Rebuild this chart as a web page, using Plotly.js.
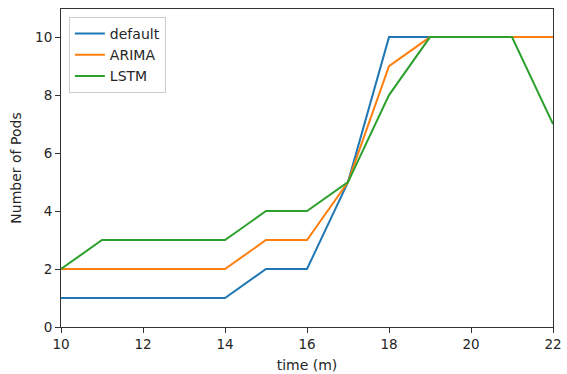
<!DOCTYPE html>
<html>
<head>
<meta charset="utf-8">
<script src="https://cdn.plot.ly/plotly-3.0.1.min.js"></script>
<style>
  html, body { margin: 0; padding: 0; background: #fff; }
  #chart { width: 567px; height: 374px; }
</style>
</head>
<body>
<div id="chart"></div>
<script>
// Time axis (minutes) and pod counts per autoscaling strategy
const timeMinutes = [10, 11, 12, 13, 14, 15, 16, 17, 18, 19, 20, 21, 22];
const podsDefault = [1, 1, 1, 1, 1, 2, 2, 5, 10, 10, 10, 10, 10];
const podsArima   = [2, 2, 2, 2, 2, 3, 3, 5, 9, 10, 10, 10, 10];
const podsLstm    = [2, 3, 3, 3, 3, 4, 4, 5, 8, 10, 10, 10, 7];
const seriesNames = ['default', 'ARIMA', 'LSTM'];
const xTicks = [10, 12, 14, 16, 18, 20, 22];
const yTicks = [0, 2, 4, 6, 8, 10];

const colors = ['#1f77b4', '#ff7f0e', '#2ca02c'];
const series = [podsDefault, podsArima, podsLstm];

const traces = series.map((ys, i) => ({
  x: timeMinutes,
  y: ys,
  name: seriesNames[i],
  type: 'scatter',
  mode: 'lines',
  line: { color: colors[i], width: 2 }
}));

const textFont = { family: 'DejaVu Sans', size: 14, color: '#262626' };

const axisCommon = {
  showgrid: false,
  zeroline: false,
  showline: true,
  mirror: true,
  linecolor: '#333',
  linewidth: 1,
  ticks: 'outside',
  ticklen: 5,
  tickwidth: 1,
  tickcolor: '#333',
  tickfont: { family: 'DejaVu Sans', size: 13.5, color: '#262626' }
};

const layout = {
  width: 567,
  height: 374,
  margin: { l: 61, r: 14, t: 9, b: 47 },
  paper_bgcolor: '#fff',
  plot_bgcolor: '#fff',
  font: { family: 'DejaVu Sans', color: '#262626' },
  showlegend: true,
  legend: {
    x: 0.016, y: 0.975, xanchor: 'left', yanchor: 'top',
    bgcolor: 'rgba(255,255,255,0.8)',
    bordercolor: '#ccc', borderwidth: 1,
    font: textFont,
    tracegroupgap: 0
  },
  xaxis: Object.assign({}, axisCommon, {
    range: [10, 22],
    tickvals: xTicks,
    title: { text: 'time (m)', font: textFont, standoff: 8 }
  }),
  yaxis: Object.assign({}, axisCommon, {
    range: [0, 10.97],
    tickvals: yTicks,
    title: { text: 'Number of Pods', font: textFont, standoff: 10 }
  })
};

Plotly.newPlot('chart', traces, layout, { displayModeBar: false, staticPlot: true });
</script>
</body>
</html>
